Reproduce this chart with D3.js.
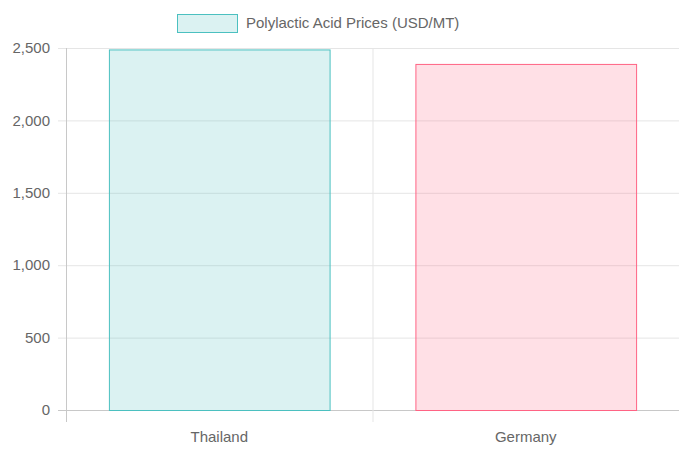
<!DOCTYPE html>
<html><head><meta charset="utf-8">
<script src="https://cdn.jsdelivr.net/npm/d3@7"></script>
<style>body{margin:0;background:#fff}text{font-family:"Helvetica Neue",Helvetica,Arial,"Liberation Sans",sans-serif}</style>
</head><body>
<svg id="chart" width="679" height="453"></svg>
<script>
// chart values
const categories = ["Thailand", "Germany"];
const prices = [2490, 2390];
const yTicks = [0, 500, 1000, 1500, 2000, 2500];
const seriesName = "Polylactic Acid Prices (USD/MT)";
const fills = ["rgba(75,192,192,0.2)", "rgba(255,99,132,0.2)"];
const strokes = ["rgb(75,192,192)", "rgb(255,99,132)"];

const svg = d3.select("#chart");
const plotLeft = 66, plotRight = 679, plotTop = 48, plotBottom = 410;

const x = d3.scaleBand().domain(categories).range([plotLeft, plotRight]);
const y = d3.scaleLinear().domain([0, 2500]).range([plotBottom, plotTop]);

// horizontal grid
svg.selectAll(".hg").data(yTicks).join("line")
  .attr("x1", plotLeft - 8).attr("x2", plotRight)
  .attr("y1", d => y(d) + 0.5).attr("y2", d => y(d) + 0.5)
  .attr("stroke", d => d === 0 ? "#c8c8c8" : "#e5e5e5");

// vertical grid
const vx = [plotLeft, ...categories.map(c => x(c) + x.bandwidth())];
svg.selectAll(".vg").data(vx).join("line")
  .attr("x1", d => d + 0.5).attr("x2", d => d + 0.5)
  .attr("y1", plotTop).attr("y2", plotBottom + 12)
  .attr("stroke", (d, i) => i === 0 ? "#c8c8c8" : "#e5e5e5");

// y labels
svg.selectAll(".yl").data(yTicks).join("text")
  .attr("x", plotLeft - 16).attr("y", d => y(d)).attr("dy", "0.35em")
  .attr("text-anchor", "end").attr("font-size", 15).attr("fill", "#666")
  .text(d3.format(","));

// x labels
svg.selectAll(".xl").data(categories).join("text")
  .attr("x", d => x(d) + x.bandwidth() / 2).attr("y", 437)
  .attr("dy", "0.35em").attr("text-anchor", "middle")
  .attr("font-size", 15).attr("fill", "#666").text(d => d);

// bars
const bw = x.bandwidth() * 0.72;
svg.selectAll(".bar").data(prices).join("rect")
  .attr("x", (d, i) => x(categories[i]) + (x.bandwidth() - bw) / 2 + 0.5)
  .attr("y", d => y(d) + 0.5)
  .attr("width", bw).attr("height", d => plotBottom - y(d))
  .attr("fill", (d, i) => fills[i]).attr("stroke", (d, i) => strokes[i]);

// legend
svg.append("rect").attr("x", 177.5).attr("y", 14.5).attr("width", 60).attr("height", 18)
  .attr("fill", fills[0]).attr("stroke", strokes[0]);
svg.append("text").attr("x", 246).attr("y", 23).attr("dy", "0.35em")
  .attr("font-size", 15).attr("fill", "#666").text(seriesName);
</script>
</body></html>
